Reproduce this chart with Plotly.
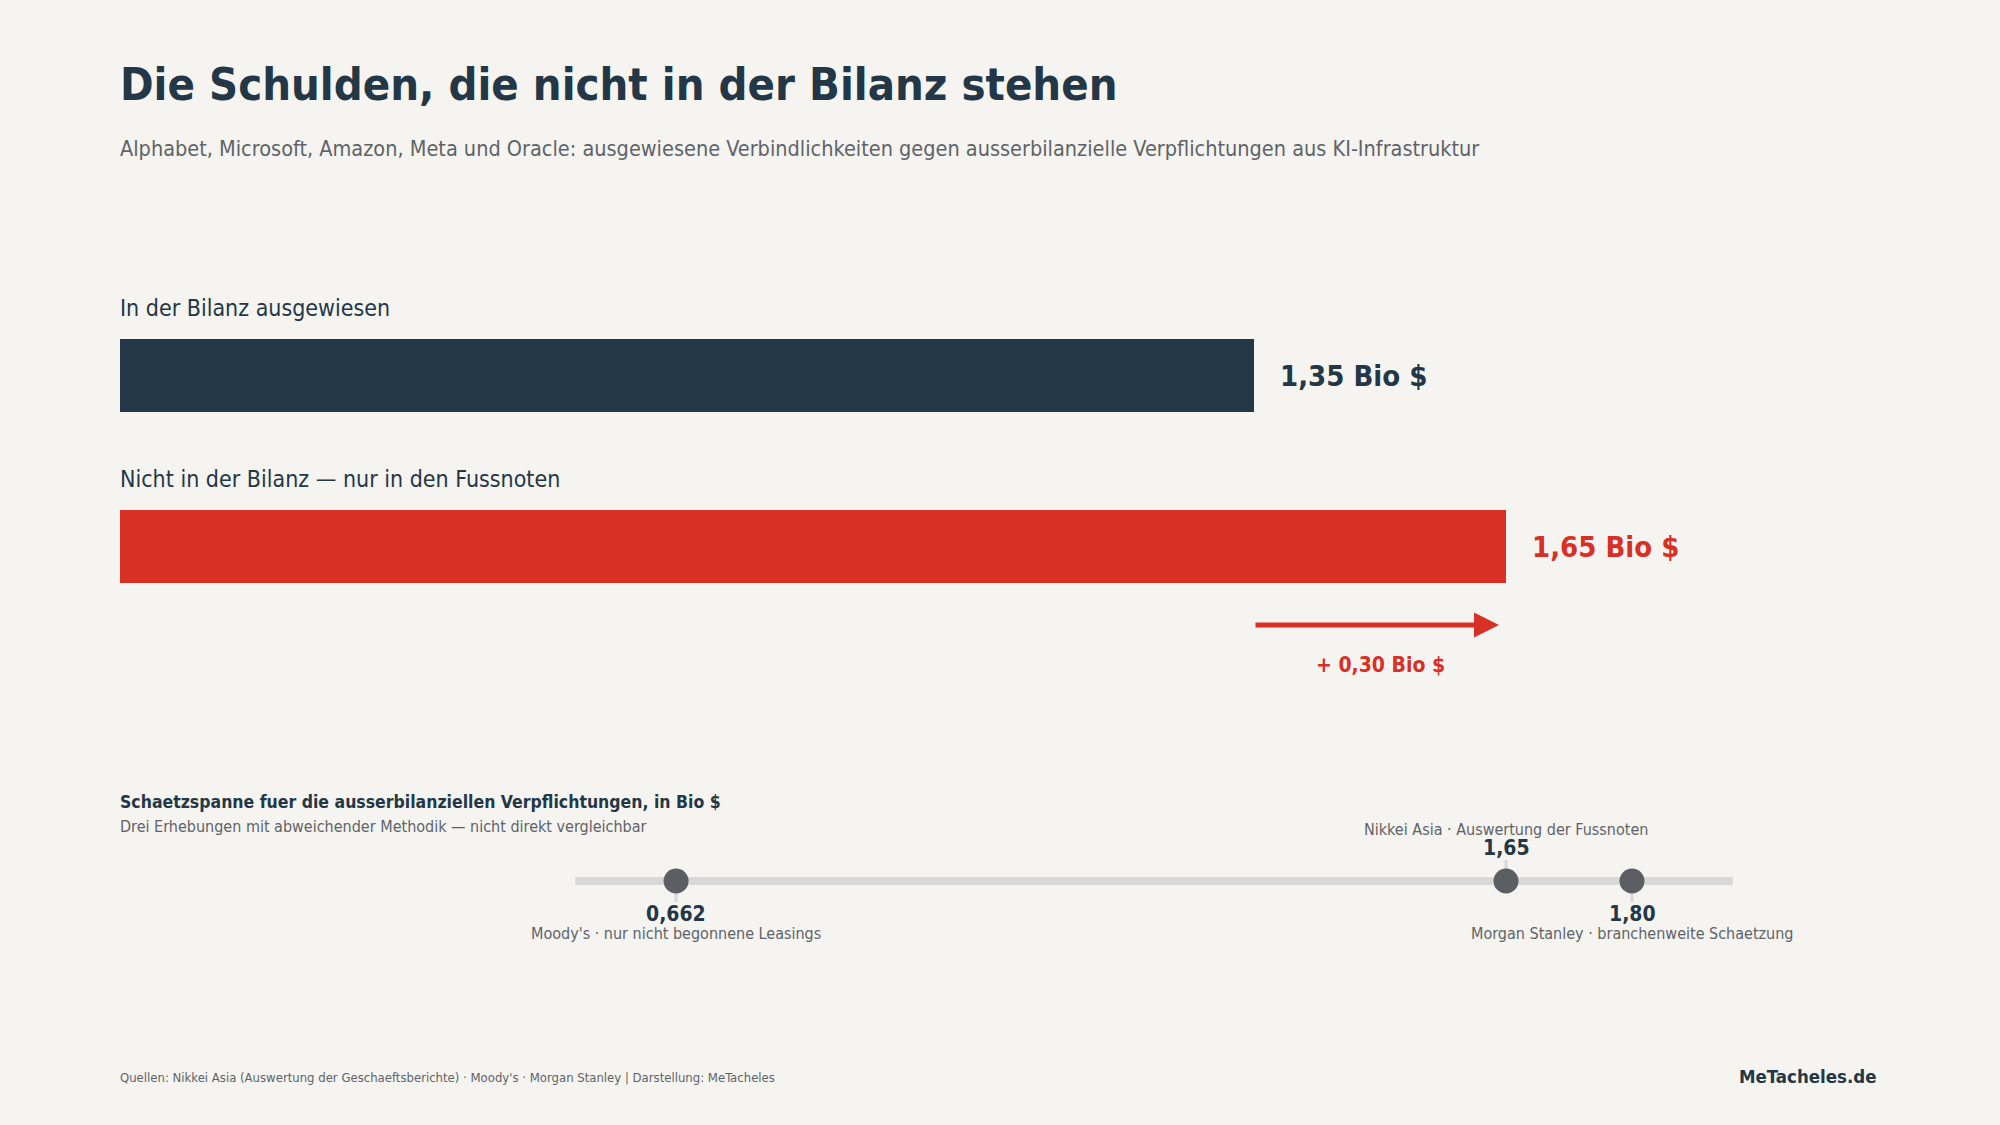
import plotly.graph_objects as go

# --- data -------------------------------------------------------------------
CATEGORIES = ["In der Bilanz ausgewiesen",
              "Nicht in der Bilanz — nur in den Fussnoten"]
VALUES = [1.35, 1.65]  # Bio $

ESTIMATE_VALUES = [0.662, 1.65, 1.80]  # Bio $
ESTIMATE_LABELS = ["0,662", "1,65", "1,80"]
ESTIMATE_SOURCES = ["Moody's · nur nicht begonnene Leasings",
                    "Nikkei Asia · Auswertung der Fussnoten",
                    "Morgan Stanley · branchenweite Schaetzung"]

TITLE = "Die Schulden, die nicht in der Bilanz stehen"
SUBTITLE = ("Alphabet, Microsoft, Amazon, Meta und Oracle: ausgewiesene "
            "Verbindlichkeiten gegen ausserbilanzielle Verpflichtungen aus "
            "KI-Infrastruktur")
RANGE_TITLE = "Schaetzspanne fuer die ausserbilanziellen Verpflichtungen, in Bio $"
RANGE_NOTE = "Drei Erhebungen mit abweichender Methodik — nicht direkt vergleichbar"
SOURCE = ("Quellen: Nikkei Asia (Auswertung der Geschaeftsberichte) · Moody's · "
          "Morgan Stanley | Darstellung: MeTacheles")
BRAND = "MeTacheles.de"

# --- style ------------------------------------------------------------------
W, H = 2000, 1125
LEFT_PX, PX_PER_UNIT = 120, 840     # x=0 sits at 120 px, 1 Bio $ = 840 px
BG = "#f5f4f0"
NAVY = "#243746"
RED = "#d93025"
GREY = "#5f6368"
TRACK = "#d8d8d8"
DOT = "#5b5f64"
FONT = "DejaVu Sans Condensed, Liberation Sans Narrow, Roboto, sans-serif"

BAR_Y = [375.5, 546.5]      # bar centres (px from top)
LABEL_Y = [308, 479]        # category label centres
BAR_W = 73
ARROW_Y, DIFF_Y = 625, 665
TRACK_Y = 881
SIDES = ["below", "above", "below"]  # where each estimate label goes


def de(v, n=2):
    """Format a number the German way (decimal comma)."""
    return f"{v:.{n}f}".replace(".", ",")


def text(fig, x, y, s, size, color, bold=False, anchor="left", xref="x"):
    # annotations carry a couple of px padding; pull left-aligned ones back
    fig.add_annotation(x=x, y=y, xref=xref, yref="y", text=s, showarrow=False,
                       xanchor=anchor, yanchor="middle",
                       xshift=-2 if anchor == "left" else 0,
                       font=dict(family=FONT, size=size, color=color,
                                 weight=700 if bold else 400))


fig = go.Figure()

# Main comparison bars
bar_colors = [NAVY, RED]
fig.add_trace(go.Bar(x=VALUES, y=BAR_Y, orientation="h", width=BAR_W,
                     marker=dict(color=bar_colors, line_width=0),
                     hoverinfo="skip"))

for label, val, by, ly, col in zip(CATEGORIES, VALUES, BAR_Y, LABEL_Y,
                                   bar_colors):
    text(fig, 0, ly, label, 23, NAVY)
    fig.add_annotation(x=val, y=by, xref="x", yref="y", showarrow=False,
                       text=f"{de(val)} Bio $", xanchor="left", xshift=24,
                       font=dict(family=FONT, size=29, color=col, weight=700))

# Difference arrow
diff = VALUES[1] - VALUES[0]
fig.add_annotation(x=VALUES[1], y=ARROW_Y, ax=VALUES[0], ay=ARROW_Y,
                   xref="x", yref="y", axref="x", ayref="y", text="",
                   showarrow=True, arrowhead=2, arrowsize=1.0, arrowwidth=5,
                   arrowcolor=RED, standoff=7)
text(fig, (VALUES[0] + VALUES[1]) / 2, DIFF_Y, f"+ {de(diff)} Bio $", 21, RED,
     bold=True, anchor="center")

# Estimate range strip
pad = 0.12
fig.add_trace(go.Scatter(
    x=[min(ESTIMATE_VALUES) - pad, max(ESTIMATE_VALUES) + pad],
    y=[TRACK_Y, TRACK_Y], mode="lines",
    line=dict(color=TRACK, width=8), hoverinfo="skip"))

tick_x, tick_y = [], []
for v, side in zip(ESTIMATE_VALUES, SIDES):
    d = -1 if side == "above" else 1
    tick_x += [v, v, None]
    tick_y += [TRACK_Y + d * 12, TRACK_Y + d * 21, None]
fig.add_trace(go.Scatter(x=tick_x, y=tick_y, mode="lines",
                         line=dict(color=TRACK, width=3), hoverinfo="skip"))

fig.add_trace(go.Scatter(x=ESTIMATE_VALUES, y=[TRACK_Y] * 3, mode="markers",
                         marker=dict(size=25, color=DOT), hoverinfo="skip"))

for v, lab, src, side in zip(ESTIMATE_VALUES, ESTIMATE_LABELS,
                             ESTIMATE_SOURCES, SIDES):
    d = -1 if side == "above" else 1
    text(fig, v, TRACK_Y + d * 33, lab, 21, NAVY, bold=True, anchor="center")
    text(fig, v, TRACK_Y + d * 52, src, 16, GREY, anchor="center")

# Titles and footer
text(fig, 0, 84, TITLE, 45, NAVY, bold=True)
text(fig, 0, 148, SUBTITLE, 21.5, GREY)
text(fig, 0, 802, RANGE_TITLE, 17.5, NAVY, bold=True)
text(fig, 0, 826, RANGE_NOTE, 16, GREY)
text(fig, 0, 1077, SOURCE, 13, GREY)
text(fig, 1879 / W, 1076, BRAND, 18.5, NAVY, bold=True, anchor="right",
     xref="paper")

fig.update_layout(
    width=W, height=H, margin=dict(l=0, r=0, t=0, b=0),
    paper_bgcolor=BG, plot_bgcolor=BG, showlegend=False,
    xaxis=dict(range=[-LEFT_PX / PX_PER_UNIT, (W - LEFT_PX) / PX_PER_UNIT],
               visible=False, fixedrange=True),
    yaxis=dict(range=[H, 0], visible=False, fixedrange=True),
)

# the page is photographed at exactly the figure size, so drop the body margin
fig.write_html("out.html", config={"displayModeBar": False},
               post_script="document.body.style.margin='0';")
